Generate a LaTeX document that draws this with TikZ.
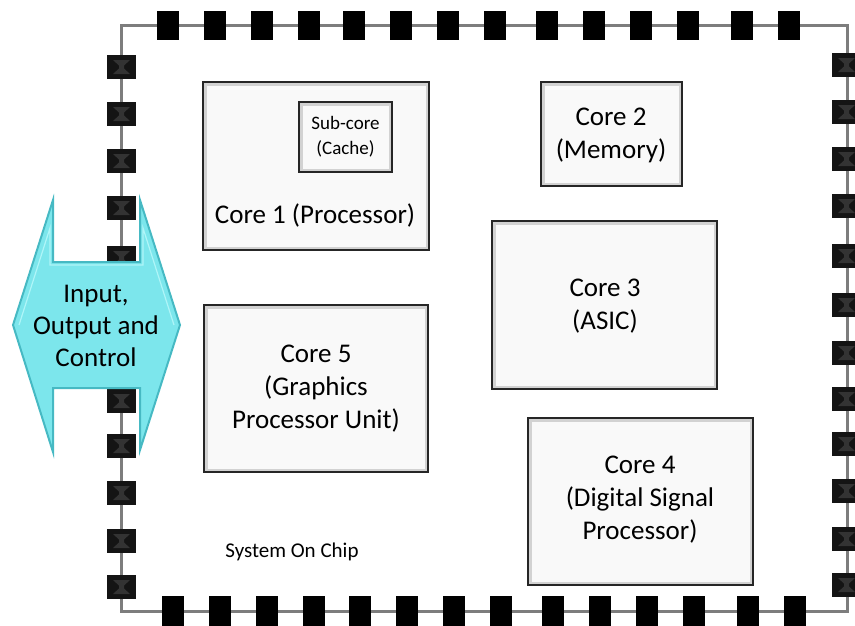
\documentclass[tikz,border=0pt]{standalone}
\usepackage{fontspec}
\setmainfont{Carlito}
\definecolor{iofill}{RGB}{124,230,236}
\definecolor{ioedge}{RGB}{70,185,195}
\definecolor{iolight}{RGB}{175,245,248}
\definecolor{chipgray}{RGB}{125,125,125}
\definecolor{boxfill}{RGB}{249,249,249}
\tikzset{
  chipline/.style={draw=chipgray, line width=3pt},
  toppad/.style={fill=black},
  sidepad/.style={fill=black!92},
  padbevel/.style={fill=black!80},
  corebox/.style={draw=black!85, line width=2.2pt, fill=boxfill,
    path picture={\draw[gray!35, line width=7pt]
      (path picture bounding box.north west) rectangle
      (path picture bounding box.south east);}},
  bigtext/.style={font=\fontsize{27}{33}\selectfont, align=center, inner sep=0pt},
  smalltext/.style={font=\fontsize{19}{25}\selectfont, align=center, inner sep=0pt},
  captiontext/.style={font=\fontsize{21}{25}\selectfont, inner sep=0pt},
  iotext/.style={font=\fontsize{27}{32}\selectfont, align=center, inner sep=0pt},
}
\begin{document}
\begin{tikzpicture}[x=1pt, y=-1pt]
\useasboundingbox (0,0) rectangle (855,625);

% chip outline
\draw[chipline] (121,25) rectangle (847,611);

% pins along the top and bottom edges
\foreach \px in {157,204,251,298,343,390,437,484,536,583,630,677,731,778}
  \fill[toppad] (\px,11) rectangle ++(22,29);
\foreach \px in {162,209,256,303,349,396,443,490,542,589,636,683,737,784}
  \fill[toppad] (\px,596) rectangle ++(22,30);

% pins along the left and right edges, with a faint bevelled face
\foreach \px/\ylist in {107/{55,102,149,196,246,295,343,389,434,481,529,575},
                        832/{53,100,147,194,244,293,341,387,432,479,527,573}}{
  \foreach \py in \ylist {
    \fill[sidepad] (\px,\py) rectangle ++(29,24);
    \fill[padbevel] (\px+6,\py+5) -- (\px+23,\py+5) -- (\px+17,\py+10.5)
      -- (\px+17,\py+13.5) -- (\px+23,\py+19) -- (\px+6,\py+19)
      -- (\px+12,\py+13.5) -- (\px+12,\py+10.5) -- cycle;
  }
}

% input / output double arrow crossing the chip edge
\filldraw[fill=iofill, draw=ioedge, line width=2pt, line join=miter]
  (13,325) -- (53,200) -- (53,262) -- (140,262) -- (140,200) -- (180,325)
  -- (140,450) -- (140,388) -- (53,388) -- (53,452) -- cycle;
\draw[iolight, line width=1.2pt, line join=miter]
  (19,325) -- (50,228) -- (50,265) -- (143,265) -- (143,228) -- (174,325);
\node[iotext] (io) at (96,326) {Input,\\Output and\\Control};

% cores
\node[corebox, minimum width=226pt, minimum height=168pt] (core1) at (316,166) {};
\node[corebox, minimum width=93pt, minimum height=70pt] (cache) at (345.5,137) {};
\node[corebox, minimum width=141pt, minimum height=104pt] (core2) at (611.5,134) {};
\node[corebox, minimum width=225pt, minimum height=168pt] (core3) at (604.5,305) {};
\node[corebox, minimum width=225pt, minimum height=167pt] (core4) at (640.5,501.5) {};
\node[corebox, minimum width=224pt, minimum height=167pt] (core5) at (316,388.5) {};

% labels
\node[smalltext] (cachelabel) at (cache.center) {Sub-core\\(Cache)};
\node[bigtext] (core1label) at (315,215) {Core 1 (Processor)};
\node[bigtext] (core2label) at (611,135) {Core 2\\(Memory)};
\node[bigtext] (core3label) at (605,306) {Core 3\\(ASIC)};
\node[bigtext] (core4label) at (640,500) {Core 4\\(Digital Signal\\Processor)};
\node[bigtext] (core5label) at (316,389) {Core 5\\(Graphics\\Processor Unit)};
\node[captiontext] (soc) at (292,552) {System On Chip};
\end{tikzpicture}
\end{document}
